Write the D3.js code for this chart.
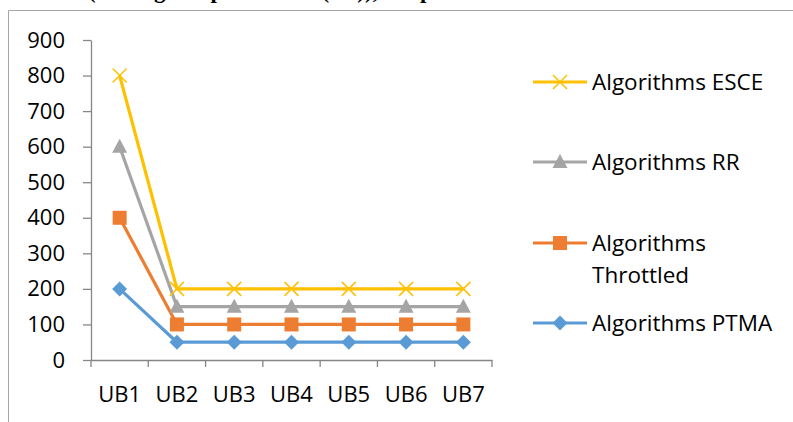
<!DOCTYPE html>
<html><head><meta charset="utf-8">
<script src="https://cdn.jsdelivr.net/npm/d3@7"></script>
<style>body{margin:0;background:#fff;}svg{display:block;}</style>
</head><body>
<svg id="c" width="793" height="422"></svg>
<script>
const categories = ["UB1","UB2","UB3","UB4","UB5","UB6","UB7"];
const esce = [800,200,200,200,200,200,200];
const rr = [600,150,150,150,150,150,150];
const throttled = [400,100,100,100,100,100,100];
const ptma = [200,50,50,50,50,50,50];
const yTicks = [0,100,200,300,400,500,600,700,800,900];
const seriesNames = ["Algorithms ESCE","Algorithms RR","Algorithms Throttled","Algorithms PTMA"];
const titleText = "(Average response time (ms)), Response time";

const series = [
  {name: seriesNames[0], values: esce, color: "#FFC000", marker: "x"},
  {name: seriesNames[1], values: rr, color: "#A5A5A5", marker: "tri"},
  {name: seriesNames[2], values: throttled, color: "#ED7D31", marker: "sq"},
  {name: seriesNames[3], values: ptma, color: "#5B9BD5", marker: "dia"}
];

const svg = d3.select("#c");
const font = "'Open Sans', 'Noto Sans', sans-serif";

// clipped title (only descenders visible, as in the reference)
svg.append("text").attr("x", 88).attr("y", -2)
  .attr("font-family", "'Liberation Serif', 'Times New Roman', serif")
  .attr("font-weight", "bold").attr("font-size", 23)
  .attr("fill", "#000").text(titleText);

// chart border
svg.append("path").attr("d", "M8.5,422 V10.5 H793")
  .attr("fill", "none").attr("stroke", "#a6a6a6").attr("stroke-width", 1);

const x = d3.scaleBand().domain(categories).range([91, 492]);
const y = d3.scaleLinear().domain([0, 900]).range([360, 40]);

// y axis
const yAxis = svg.append("g").attr("transform", "translate(91,0)")
  .call(d3.axisLeft(y).tickValues(yTicks).tickSize(8).tickPadding(18).tickSizeOuter(0));
yAxis.select(".domain").attr("stroke", "#868686").attr("stroke-width", 1.3);
yAxis.selectAll(".tick line").attr("stroke", "#868686").attr("stroke-width", 1.3);
yAxis.selectAll("text").attr("font-family", font).attr("font-size", 22).attr("fill", "#000");

// x axis
const xAxis = svg.append("g").attr("transform", "translate(0,360)")
  .call(d3.axisBottom(x).tickSize(0).tickPadding(26));
xAxis.select(".domain").attr("stroke", "#868686").attr("stroke-width", 1.3);
xAxis.selectAll("text").attr("font-family", font).attr("font-size", 22).attr("fill", "#000");
// category separator ticks
const bounds = categories.map(c => x(c)).concat([x.range()[1]]);
xAxis.selectAll(".sep").data(bounds).enter().append("line").attr("class","sep")
  .attr("x1", d => d).attr("x2", d => d).attr("y1", 0).attr("y2", 7)
  .attr("stroke", "#868686").attr("stroke-width", 1.3);

const cx = c => x(c) + x.bandwidth() / 2;
const line = d3.line().x((d, i) => cx(categories[i])).y(d => y(d));

function drawMarker(g, type, px, py, color) {
  if (type === "x") {
    g.append("path").attr("d", `M${px-7},${py-7}L${px+7},${py+7}M${px-7},${py+7}L${px+7},${py-7}`)
      .attr("stroke", color).attr("stroke-width", 1.5).attr("fill", "none");
  } else if (type === "tri") {
    g.append("path").attr("d", `M${px},${py-8}L${px+7.5},${py+6}L${px-7.5},${py+6}Z`).attr("fill", color);
  } else if (type === "sq") {
    g.append("rect").attr("x", px-7).attr("y", py-7).attr("width", 14).attr("height", 14).attr("fill", color);
  } else {
    g.append("path").attr("d", `M${px},${py-7.5}L${px+7.5},${py}L${px},${py+7.5}L${px-7.5},${py}Z`).attr("fill", color);
  }
}

const plot = svg.append("g");
series.slice().reverse().forEach(s => {
  plot.append("path").attr("d", line(s.values)).attr("fill", "none")
    .attr("stroke", s.color).attr("stroke-width", 3.2).attr("stroke-linejoin", "round");
  s.values.forEach((v, i) => drawMarker(plot, s.marker, cx(categories[i]), y(v), s.color));
});

// legend
const legendY = [82, 162, 243, 323];
const lg = svg.append("g");
series.forEach((s, i) => {
  const ly = legendY[i];
  lg.append("line").attr("x1", 533).attr("x2", 587).attr("y1", ly).attr("y2", ly)
    .attr("stroke", s.color).attr("stroke-width", 3.2);
  drawMarker(lg, s.marker, 560, ly, s.color);
  const t = lg.append("text").attr("x", 592).attr("y", ly + 8)
    .attr("font-family", font).attr("font-size", 22.5).attr("fill", "#000");
  if (s.name === "Algorithms Throttled") {
    t.append("tspan").attr("x", 592).text("Algorithms");
    t.append("tspan").attr("x", 592).attr("dy", 32).text("Throttled");
  } else {
    t.text(s.name);
  }
});
</script>
</body></html>
